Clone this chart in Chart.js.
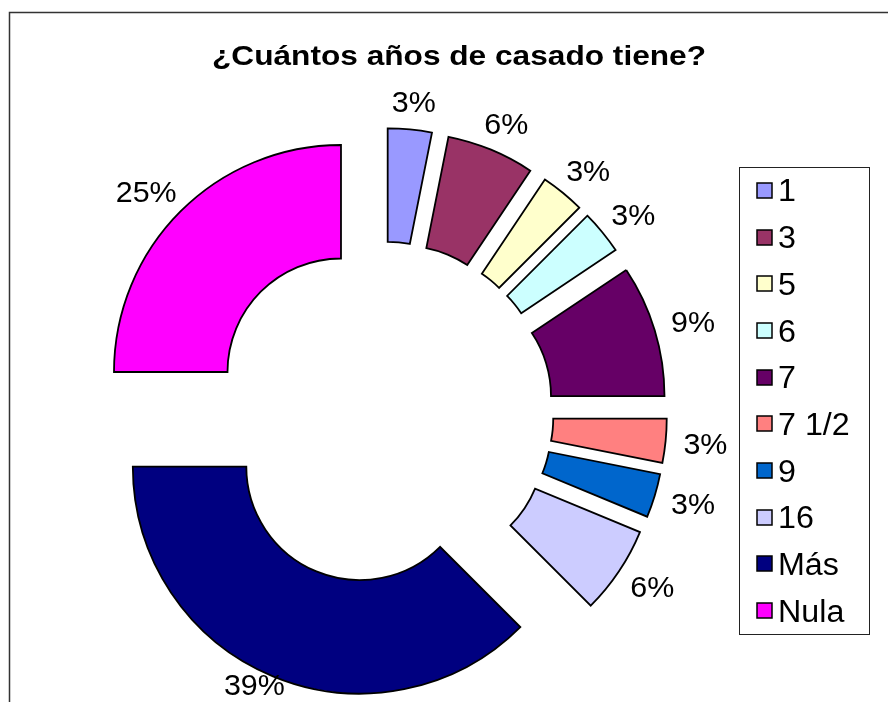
<!DOCTYPE html>
<html>
<head>
<meta charset="utf-8">
<script src="https://cdn.jsdelivr.net/npm/chart.js@4.4.1/dist/chart.umd.min.js"></script>
<style>
  html, body { margin: 0; padding: 0; background: #fff; }
  canvas { display: block; }
</style>
</head>
<body>
<canvas id="c" width="888" height="702"></canvas>
<script>
// ---- data ----
const chartTitle = '¿Cuántos años de casado tiene?';
const categories = ['1', '3', '5', '6', '7', '7 1/2', '9', '16', 'Más', 'Nula'];
const counts = [1, 2, 1, 1, 3, 1, 1, 2, 12, 8];
const percentLabels = ['3%', '6%', '3%', '3%', '9%', '3%', '3%', '6%', '39%', '25%'];

// ---- styles ----
const sliceColors = ['#9999FF', '#993366', '#FFFFCC', '#CCFFFF', '#660066',
                     '#FF8080', '#0066CC', '#CCCCFF', '#000080', '#FF00FF'];
const FONT = '"Liberation Sans", Arial, Helvetica, sans-serif';
const EXPLODE = 58;       // distance every slice is pulled out from the centre
const LABEL_DIST = 303;   // distance of the data labels from the centre
const LABEL_SIZE = 29;
const LEGEND_SIZE = 31;
const TEXT_STRETCH = 1.05;
const LEGEND_STRETCH = 1.04;
const TITLE_STRETCH = 1.13;
const LEGEND_BOX = { left: 739, top: 167, right: 869, bottom: 634 };

function centreOf(chart) {
  const a = chart.chartArea;
  return { x: (a.left + a.right) / 2, y: (a.top + a.bottom) / 2 };
}

function stretchedText(ctx, text, x, y, sx) {
  ctx.save();
  ctx.translate(x, y);
  ctx.scale(sx, 1);
  ctx.fillText(text, 0, 0);
  ctx.restore();
}

// pull every slice outwards along its mid angle (exploded doughnut)
const explodePlugin = {
  id: 'explode',
  afterDatasetsUpdate(chart) {
    const c = centreOf(chart);
    chart.getDatasetMeta(0).data.forEach(arc => {
      const mid = (arc.startAngle + arc.endAngle) / 2;
      arc.x = c.x + Math.cos(mid) * EXPLODE;
      arc.y = c.y + Math.sin(mid) * EXPLODE;
    });
  }
};

const decorPlugin = {
  id: 'decor',
  beforeDraw(chart) {
    const ctx = chart.ctx;
    ctx.save();
    ctx.fillStyle = '#fff';
    ctx.fillRect(0, 0, chart.width, chart.height);
    ctx.strokeStyle = '#333';
    ctx.lineWidth = 1.5;
    ctx.beginPath();
    ctx.moveTo(9.5, chart.height + 5);
    ctx.lineTo(9.5, 12.5);
    ctx.lineTo(chart.width + 5, 12.5);
    ctx.stroke();
    ctx.restore();
  },
  afterDraw(chart) {
    const ctx = chart.ctx;
    // title
    ctx.save();
    ctx.font = 'bold 28px ' + FONT;
    ctx.fillStyle = '#000';
    ctx.textAlign = 'center';
    ctx.textBaseline = 'alphabetic';
    stretchedText(ctx, chartTitle, 459, 65, TITLE_STRETCH);
    ctx.restore();

    // data labels outside the slices
    const c = centreOf(chart);
    ctx.save();
    ctx.font = LABEL_SIZE + 'px ' + FONT;
    ctx.fillStyle = '#000';
    ctx.textAlign = 'center';
    ctx.textBaseline = 'alphabetic';
    const capH = 0.716 * LABEL_SIZE;
    chart.getDatasetMeta(0).data.forEach((arc, i) => {
      const mid = (arc.startAngle + arc.endAngle) / 2;
      const dx = Math.cos(mid), dy = Math.sin(mid);
      const text = percentLabels[i];
      const w = ctx.measureText(text).width * TEXT_STRETCH;
      const x = c.x + dx * LABEL_DIST + dx * w / 2;
      let y = c.y + dy * LABEL_DIST + dy * capH / 2;
      y = Math.min(y, chart.height - capH / 2 - 7);
      stretchedText(ctx, text, x, y + capH / 2, TEXT_STRETCH);
    });
    ctx.restore();

    // legend
    const L = LEGEND_BOX;
    ctx.save();
    ctx.strokeStyle = '#222';
    ctx.lineWidth = 1;
    ctx.fillStyle = '#fff';
    ctx.fillRect(L.left, L.top, L.right - L.left, L.bottom - L.top);
    ctx.strokeRect(L.left + 0.5, L.top + 0.5, L.right - L.left, L.bottom - L.top);
    const rowH = (L.bottom - L.top) / categories.length;
    const capL = 0.716 * LEGEND_SIZE;
    ctx.font = LEGEND_SIZE + 'px ' + FONT;
    ctx.textAlign = 'left';
    ctx.textBaseline = 'alphabetic';
    categories.forEach((cat, i) => {
      const yc = L.top + rowH * (i + 0.5);
      const sy = Math.round(yc - 7.5);
      ctx.fillStyle = sliceColors[i];
      ctx.fillRect(757, sy, 15, 15);
      ctx.strokeStyle = '#000';
      ctx.lineWidth = 1.5;
      ctx.strokeRect(757, sy, 15, 15);
      ctx.fillStyle = '#000';
      stretchedText(ctx, cat, 778, yc + capL / 2, LEGEND_STRETCH);
    });
    ctx.restore();
  }
};

new Chart(document.getElementById('c'), {
  type: 'doughnut',
  data: {
    labels: categories,
    datasets: [{
      data: counts,
      backgroundColor: sliceColors,
      borderColor: '#000',
      borderWidth: 1.8,
      borderJoinStyle: 'miter',
      radius: 227,
      cutout: '50%',
      clip: false
    }]
  },
  options: {
    responsive: false,
    animation: false,
    devicePixelRatio: 1,
    layout: { padding: { left: 0, right: 124, top: 124, bottom: 0 } },
    plugins: {
      legend: { display: false },
      title: { display: false },
      tooltip: { enabled: false }
    }
  },
  plugins: [explodePlugin, decorPlugin]
});
</script>
</body>
</html>
